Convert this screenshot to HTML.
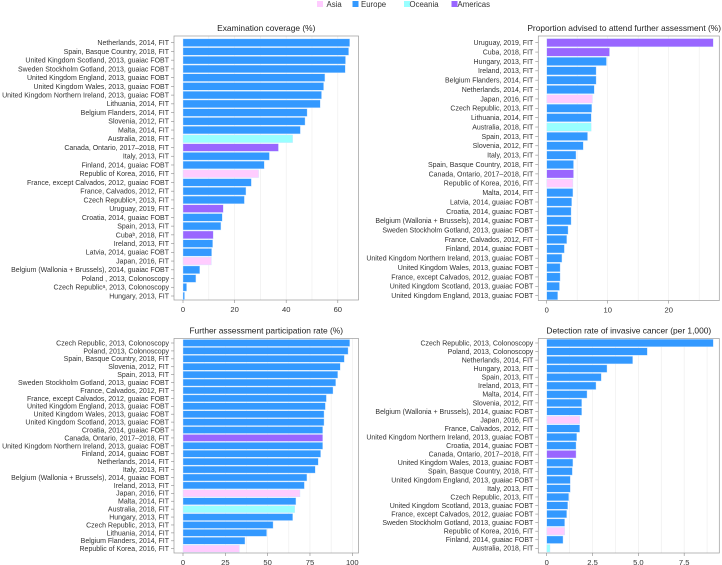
<!DOCTYPE html>
<html><head><meta charset="utf-8">
<style>
html,body{margin:0;padding:0;background:#fff;}
svg{display:block;font-family:"Liberation Sans",sans-serif;}
</style></head>
<body>
<svg id="chart" width="722" height="565" viewBox="0 0 722 565" xmlns="http://www.w3.org/2000/svg">
  <g>
    <g><rect x="317" y="1" width="6" height="6" fill="#ffccff"/><text x="326.5" y="7" font-size="7.8" fill="#333">Asia</text></g>
    <g><rect x="352.5" y="1" width="6" height="6" fill="#3399ff"/><text x="361" y="7" font-size="7.8" fill="#333">Europe</text></g>
    <g><rect x="404" y="1" width="6" height="6" fill="#99ffff"/><text x="409.5" y="7" font-size="7.8" fill="#333">Oceania</text></g>
    <g><rect x="451.5" y="1" width="6" height="6" fill="#9966ff"/><text x="457.5" y="7" font-size="7.8" fill="#333">Americas</text></g>
  </g>
</svg>
<script>
// ---- Panel 1: Examination coverage (%) ----
const cov_categories = ["Netherlands, 2014, FIT","Spain, Basque Country, 2018, FIT","United Kingdom Scotland, 2013, guaiac FOBT","Sweden Stockholm Gotland, 2013, guaiac FOBT","United Kingdom England, 2013, guaiac FOBT","United Kingdom Wales, 2013, guaiac FOBT","United Kingdom Northern Ireland, 2013, guaiac FOBT","Lithuania, 2014, FIT","Belgium Flanders, 2014, FIT","Slovenia, 2012, FIT","Malta, 2014, FIT","Australia, 2018, FIT","Canada, Ontario, 2017–2018, FIT","Italy, 2013, FIT","Finland, 2014, guaiac FOBT","Republic of Korea, 2016, FIT","France, except Calvados, 2012, guaiac FOBT","France, Calvados, 2012, FIT","Czech Republic\u1d43, 2013, FIT","Uruguay, 2019, FIT","Croatia, 2014, guaiac FOBT","Spain, 2013, FIT","Cuba\u1d47, 2018, FIT","Ireland, 2013, FIT","Latvia, 2014, guaiac FOBT","Japan, 2016, FIT","Belgium (Wallonia + Brussels), 2014, guaiac FOBT","Poland , 2013, Colonoscopy","Czech Republic\u1d43, 2013, Colonoscopy","Hungary, 2013, FIT"];
const cov_values = [64.6,64.2,63.0,62.9,55.0,54.5,53.7,53.2,48.1,47.3,45.5,42.5,37.0,33.5,31.5,29.3,26.5,24.4,23.8,15.6,15.2,14.7,11.7,11.5,11.1,11.0,6.5,5.0,1.4,0.6];
const cov_regions = ["E","E","E","E","E","E","E","E","E","E","E","O","A","E","E","S","E","E","E","A","E","E","A","E","E","S","E","E","E","E"];
const cov_ticks = [0,20,40,60];

// ---- Panel 2: Proportion advised to attend further assessment (%) ----
const adv_categories = ["Uruguay, 2019, FIT","Cuba, 2018, FIT","Hungary, 2013, FIT","Ireland, 2013, FIT","Belgium Flanders, 2014, FIT","Netherlands, 2014, FIT","Japan, 2016, FIT","Czech Republic, 2013, FIT","Lithuania, 2014, FIT","Australia, 2018, FIT","Spain, 2013, FIT","Slovenia, 2012, FIT","Italy, 2013, FIT","Spain,  Basque Country, 2018, FIT","Canada, Ontario, 2017–2018, FIT","Republic of Korea, 2016, FIT","Malta, 2014, FIT","Latvia, 2014, guaiac FOBT","Croatia, 2014, guaiac FOBT","Belgium (Wallonia + Brussels), 2014, guaiac FOBT","Sweden Stockholm Gotland, 2013, guaiac FOBT","France, Calvados, 2012, FIT","Finland, 2014, guaiac FOBT","United Kingdom Northern Ireland, 2013, guaiac FOBT","United Kingdom Wales, 2013, guaiac FOBT","France,  except Calvados, 2012, guaiac FOBT","United Kingdom Scotland, 2013, guaiac FOBT","United Kingdom England, 2013, guaiac FOBT"];
const adv_values = [27.3,10.3,9.8,8.1,8.1,7.8,7.5,7.4,7.3,7.3,6.7,6.0,4.8,4.4,4.4,4.3,4.3,4.1,4.0,4.0,3.5,3.3,2.9,2.5,2.2,2.2,2.1,1.8];
const adv_regions = ["A","A","E","E","E","E","S","E","E","O","E","E","E","E","A","S","E","E","E","E","E","E","E","E","E","E","E","E"];
const adv_ticks = [0,10,20];

// ---- Panel 3: Further assessment participation rate (%) ----
const par_categories = ["Czech Republic, 2013, Colonoscopy","Poland, 2013, Colonoscopy","Spain, Basque Country, 2018, FIT","Slovenia, 2012, FIT","Spain, 2013, FIT","Sweden Stockholm Gotland, 2013, guaiac FOBT","France, Calvados, 2012, FIT","France, except Calvados, 2012, guaiac FOBT","United Kingdom England, 2013, guaiac FOBT","United Kingdom Wales, 2013, guaiac FOBT","United Kingdom Scotland, 2013, guaiac FOBT","Croatia, 2014, guaiac FOBT","Canada, Ontario, 2017–2018, FIT","United Kingdom Northern Ireland, 2013, guaiac FOBT","Finland, 2014, guaiac FOBT","Netherlands, 2014, FIT","Italy, 2013, FIT","Belgium (Wallonia + Brussels), 2014, guaiac FOBT","Ireland, 2013, FIT","Japan, 2016, FIT","Malta, 2014, FIT","Australia, 2018, FIT","Hungary, 2013, FIT","Czech Republic, 2013, FIT","Lithuania, 2014, FIT","Belgium Flanders, 2014, FIT","Republic of Korea, 2016, FIT"];
const par_values = [98.5,97.5,95.3,92.9,91.4,90.2,88.6,84.7,84.1,83.3,83.3,82.5,82.5,82.5,81.3,79.9,78.1,73.2,71.7,69.1,66.7,66.0,64.8,53.2,49.4,36.6,33.3];
const par_regions = ["E","E","E","E","E","E","E","E","E","E","E","E","A","E","E","E","E","E","E","S","E","O","E","E","E","E","S"];
const par_ticks = [0,25,50,75,100];

// ---- Panel 4: Detection rate of invasive cancer (per 1,000) ----
const det_categories = ["Czech Republic, 2013, Colonoscopy","Poland, 2013, Colonoscopy","Netherlands, 2014, FIT","Hungary, 2013, FIT","Spain, 2013, FIT","Ireland, 2013, FIT","Malta, 2014, FIT","Slovenia, 2012, FIT","Belgium (Wallonia + Brussels), 2014, guaiac FOBT","Japan, 2016, FIT","France, Calvados, 2012, FIT","United Kingdom Northern Ireland, 2013, guaiac FOBT","Croatia, 2014, guaiac FOBT","Canada, Ontario, 2017–2018, FIT","United Kingdom Wales, 2013, guaiac FOBT","Spain, Basque Country, 2018, FIT","United Kingdom England, 2013, guaiac FOBT","Italy, 2013, FIT","Czech Republic, 2013, FIT","United Kingdom Scotland, 2013, guaiac FOBT","France, except Calvados, 2012, guaiac FOBT","Sweden Stockholm Gotland, 2013, guaiac FOBT","Republic of Korea, 2016, FIT","Finland, 2014, guaiac FOBT","Australia, 2018, FIT"];
const det_values = [9.09,5.49,4.69,3.29,2.98,2.69,2.20,1.91,1.91,1.80,1.80,1.64,1.60,1.60,1.43,1.40,1.29,1.29,1.20,1.15,1.09,0.98,0.98,0.89,0.18];
const det_regions = ["E","E","E","E","E","E","E","E","E","S","E","E","E","A","E","E","E","E","E","E","E","E","S","E","O"];
const det_ticks = [0,2.5,5.0,7.5];

const COLORS = {S:"#ffccff",E:"#3399ff",O:"#99ffff",A:"#9966ff"};
const NS = "http://www.w3.org/2000/svg";
const svg = document.getElementById('chart');

function mk(tag, attrs, parent){
  const e = document.createElementNS(NS, tag);
  for (const k in attrs) e.setAttribute(k, attrs[k]);
  parent.appendChild(e);
  return e;
}

function panel(name, title, cats, vals, regs, ticks, grid, geo){
  const g = mk('g', {}, svg);
  
  
  const xs = v => geo.x0 + v * geo.ppu;
  const n = cats.length;
  const step = (geo.yLast - geo.yFirst) / (n - 1);
  const ys = i => geo.yFirst + i * step;
  for (let v = grid; xs(v) < geo.right - 1; v += grid) {
    const gl = mk('line', {x1:xs(v), x2:xs(v), y1:geo.top, y2:geo.bottom, stroke:'#ececec', 'stroke-width':0.6}, g);
    
    
  }
  const fr = mk('rect', {x:geo.left, y:geo.top, width:geo.right-geo.left, height:geo.bottom-geo.top, fill:'none', stroke:'#9a9a9a', 'stroke-width':0.7}, g);
  
  
  const tAttrs = geo.titleRight
    ? {x:geo.titleRight, y:geo.top-5, 'text-anchor':'end', 'font-size':8.4, fill:'#222'}
    : {x:(geo.left+geo.right)/2, y:geo.top-5, 'text-anchor':'middle', 'font-size':8.4, fill:'#222'};
  const t = mk('text', tAttrs, g);
  t.textContent = title;
  
  
  const bh = step * 0.88;
  for (let i = 0; i < n; i++) {
    const y = ys(i);
    const b = mk('rect', {x:xs(0), y:y-bh/2, width:Math.max(0, xs(vals[i])-xs(0)), height:bh, fill:COLORS[regs[i]], stroke:'#cfe6ff', 'stroke-width':0.4}, g);
    
    
    const tk = mk('line', {x1:geo.left-3, x2:geo.left, y1:y, y2:y, stroke:'#888', 'stroke-width':0.6}, g);
    
    
    const lb = mk('text', {x:geo.left-5, y:y+2.4, 'text-anchor':'end', 'font-size':7.0, fill:'#333'}, g);
    lb.textContent = cats[i];
    
    
  }
  for (const v of ticks) {
    const xt = mk('line', {x1:xs(v), x2:xs(v), y1:geo.bottom, y2:geo.bottom+3, stroke:'#888', 'stroke-width':0.6}, g);
    
    
    const tl = mk('text', {x:xs(v), y:geo.bottom+12, 'text-anchor':'middle', 'font-size':7.6, fill:'#333'}, g);
    tl.textContent = (Number.isInteger(v) && v !== 0 && ticks.some(u=>!Number.isInteger(u))) ? v.toFixed(1) : String(v);
    
    
  }
}

panel('examination-coverage', 'Examination coverage (%)', cov_categories, cov_values, cov_regions, cov_ticks, 10,
  {left:174, right:358.5, top:36, bottom:300, x0:183, ppu:2.58, yFirst:42.7, yLast:296});
panel('further-assessment-advised', 'Proportion advised to attend further assessment (%)', adv_categories, adv_values, adv_regions, adv_ticks, 5,
  {left:538.3, right:719.3, top:36, bottom:300.5, x0:546.7, ppu:6.1, yFirst:42.7, yLast:295.7, titleRight:721});
panel('assessment-participation', 'Further assessment participation rate (%)', par_categories, par_values, par_regions, par_ticks, 12.5,
  {left:174, right:358.5, top:338.5, bottom:553, x0:183, ppu:1.693, yFirst:343, yLast:548.7});
panel('cancer-detection-rate', 'Detection rate of invasive cancer (per 1,000)', det_categories, det_values, det_regions, det_ticks, 1.25,
  {left:538.3, right:719.3, top:338.5, bottom:553, x0:546.7, ppu:18.33, yFirst:343, yLast:548.3});
</script>
</body></html>
